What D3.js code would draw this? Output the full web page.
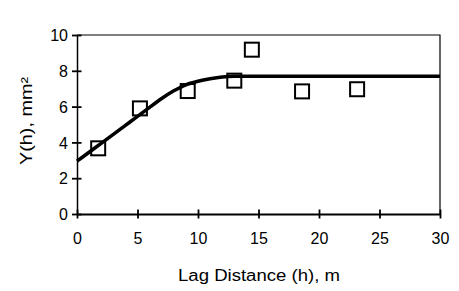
<!DOCTYPE html>
<html><head><meta charset="utf-8">
<script src="https://cdn.jsdelivr.net/npm/d3@7"></script>
<style>
body{margin:0;background:#fff;}
svg text{font-family:"Liberation Sans",Arial,sans-serif;fill:#000;}
</style></head>
<body><svg id="c" width="459" height="291"></svg>
<script>
// Experimental variogram points
const lagH = [1.75, 5.2, 9.15, 13.0, 14.45, 18.6, 23.15];
const gammaH = [3.67, 5.9, 6.87, 7.45, 9.18, 6.85, 6.97];
// Fitted model curve
const modelH = [0, 1, 2, 3, 4, 5, 6, 7, 8, 9, 10, 11, 12, 13, 30];
const modelG = [2.95, 3.45, 3.95, 4.45, 4.95, 5.45, 5.96, 6.45, 6.88, 7.22, 7.42, 7.56, 7.66, 7.7, 7.7];
const xTicks = [0, 5, 10, 15, 20, 25, 30];
const yTicks = [0, 2, 4, 6, 8, 10];
const xLabel = "Lag Distance (h), m";
const yLabel = "Y(h), mm²";

const svg = d3.select("#c");
const L = 77, R = 440, T = 35, B = 214;
const x = d3.scaleLinear().domain([0, 30]).range([L, R]);
const y = d3.scaleLinear().domain([0, 10]).range([B, T]);

// frame (top & right)
svg.append("path").attr("d", `M${L},${T}H${R}V${B}`).attr("fill", "none").attr("stroke", "#000").attr("stroke-width", 1.2);

// axes
const xAxis = d3.axisBottom(x).tickValues(xTicks).tickSizeInner(4.5).tickSizeOuter(0).tickPadding(14);
const gx = svg.append("g").attr("transform", `translate(0,${B})`).call(xAxis);
gx.select(".domain").attr("stroke-width", 2.2);
gx.selectAll(".tick line").attr("y1", -4.5).attr("stroke-width", 1.8);
gx.selectAll(".tick text").attr("font-size", 16).attr("font-family", "Liberation Sans, Arial, sans-serif");

const yAxis = d3.axisLeft(y).tickValues(yTicks).tickSizeInner(5).tickSizeOuter(0).tickPadding(4);
const gy = svg.append("g").attr("transform", `translate(${L},0)`).call(yAxis);
gy.select(".domain").attr("stroke-width", 1.5);
gy.selectAll(".tick line").attr("x1", 4.5).attr("x2", -5).attr("stroke-width", 1.8);
gy.selectAll(".tick text").attr("font-size", 16).attr("dy", "0.36em").attr("font-family", "Liberation Sans, Arial, sans-serif");

// model curve
const line = d3.line().x((d, i) => x(modelH[i])).y((d, i) => y(modelG[i])).curve(d3.curveMonotoneX);
svg.append("path").datum(modelG).attr("d", line).attr("fill", "none").attr("stroke", "#000").attr("stroke-width", 3.5);

// points
const s = 14;
svg.append("g").selectAll("rect").data(lagH).join("rect")
  .attr("x", (d) => x(d) - s / 2).attr("y", (d, i) => y(gammaH[i]) - s / 2)
  .attr("width", s).attr("height", s)
  .attr("fill", "none").attr("stroke", "#000").attr("stroke-width", 2);

// axis labels
svg.append("text").attr("x", 259).attr("y", 281).attr("text-anchor", "middle")
  .attr("font-size", 16).attr("textLength", 162).attr("lengthAdjust", "spacingAndGlyphs").text(xLabel);
svg.append("text").attr("transform", "translate(32,121) rotate(-90)").attr("text-anchor", "middle")
  .attr("font-size", 16).attr("textLength", 88).attr("lengthAdjust", "spacingAndGlyphs").text(yLabel);
</script></body></html>
